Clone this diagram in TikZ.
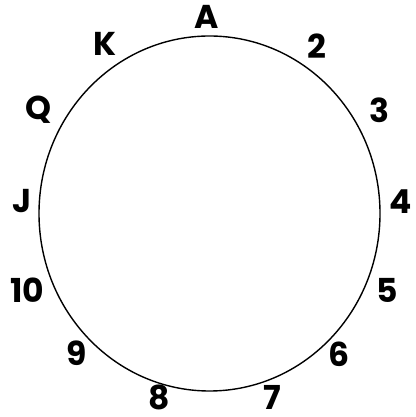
\documentclass[tikz,border=0pt]{standalone}
\usepackage{fontspec}
\setmainfont{Poppins}[BoldFont={* Bold}]
\begin{document}
\begin{tikzpicture}[x=1pt,y=1pt,
  lbl/.style={font=\fontsize{33}{34}\selectfont\bfseries, inner sep=0pt, anchor=center}]
\useasboundingbox (0,0) rectangle (415,417);
\draw[line width=1.4pt] (209.5,203.5) ellipse [x radius=170.5, y radius=177.5];
\node[lbl] (A)  at (207,400) {A};
\node[lbl] (n2) at (317,371) {2};
\node[lbl] (n3) at (379,307) {3};
\node[lbl] (n4) at (401,215) {4};
\node[lbl] (n5) at (387,127) {5};
\node[lbl] (n6) at (339,63) {6};
\node[lbl] (n7) at (272,20) {7};
\node[lbl] (n8) at (159,20) {8};
\node[lbl] (n9) at (77,64) {9};
\node[lbl] (n10) at (27,127) {10};
\node[lbl] (J)  at (22,216) {J};
\node[lbl] (Q)  at (39,307) {Q};
\node[lbl] (K)  at (105,373) {K};
\end{tikzpicture}
\end{document}
